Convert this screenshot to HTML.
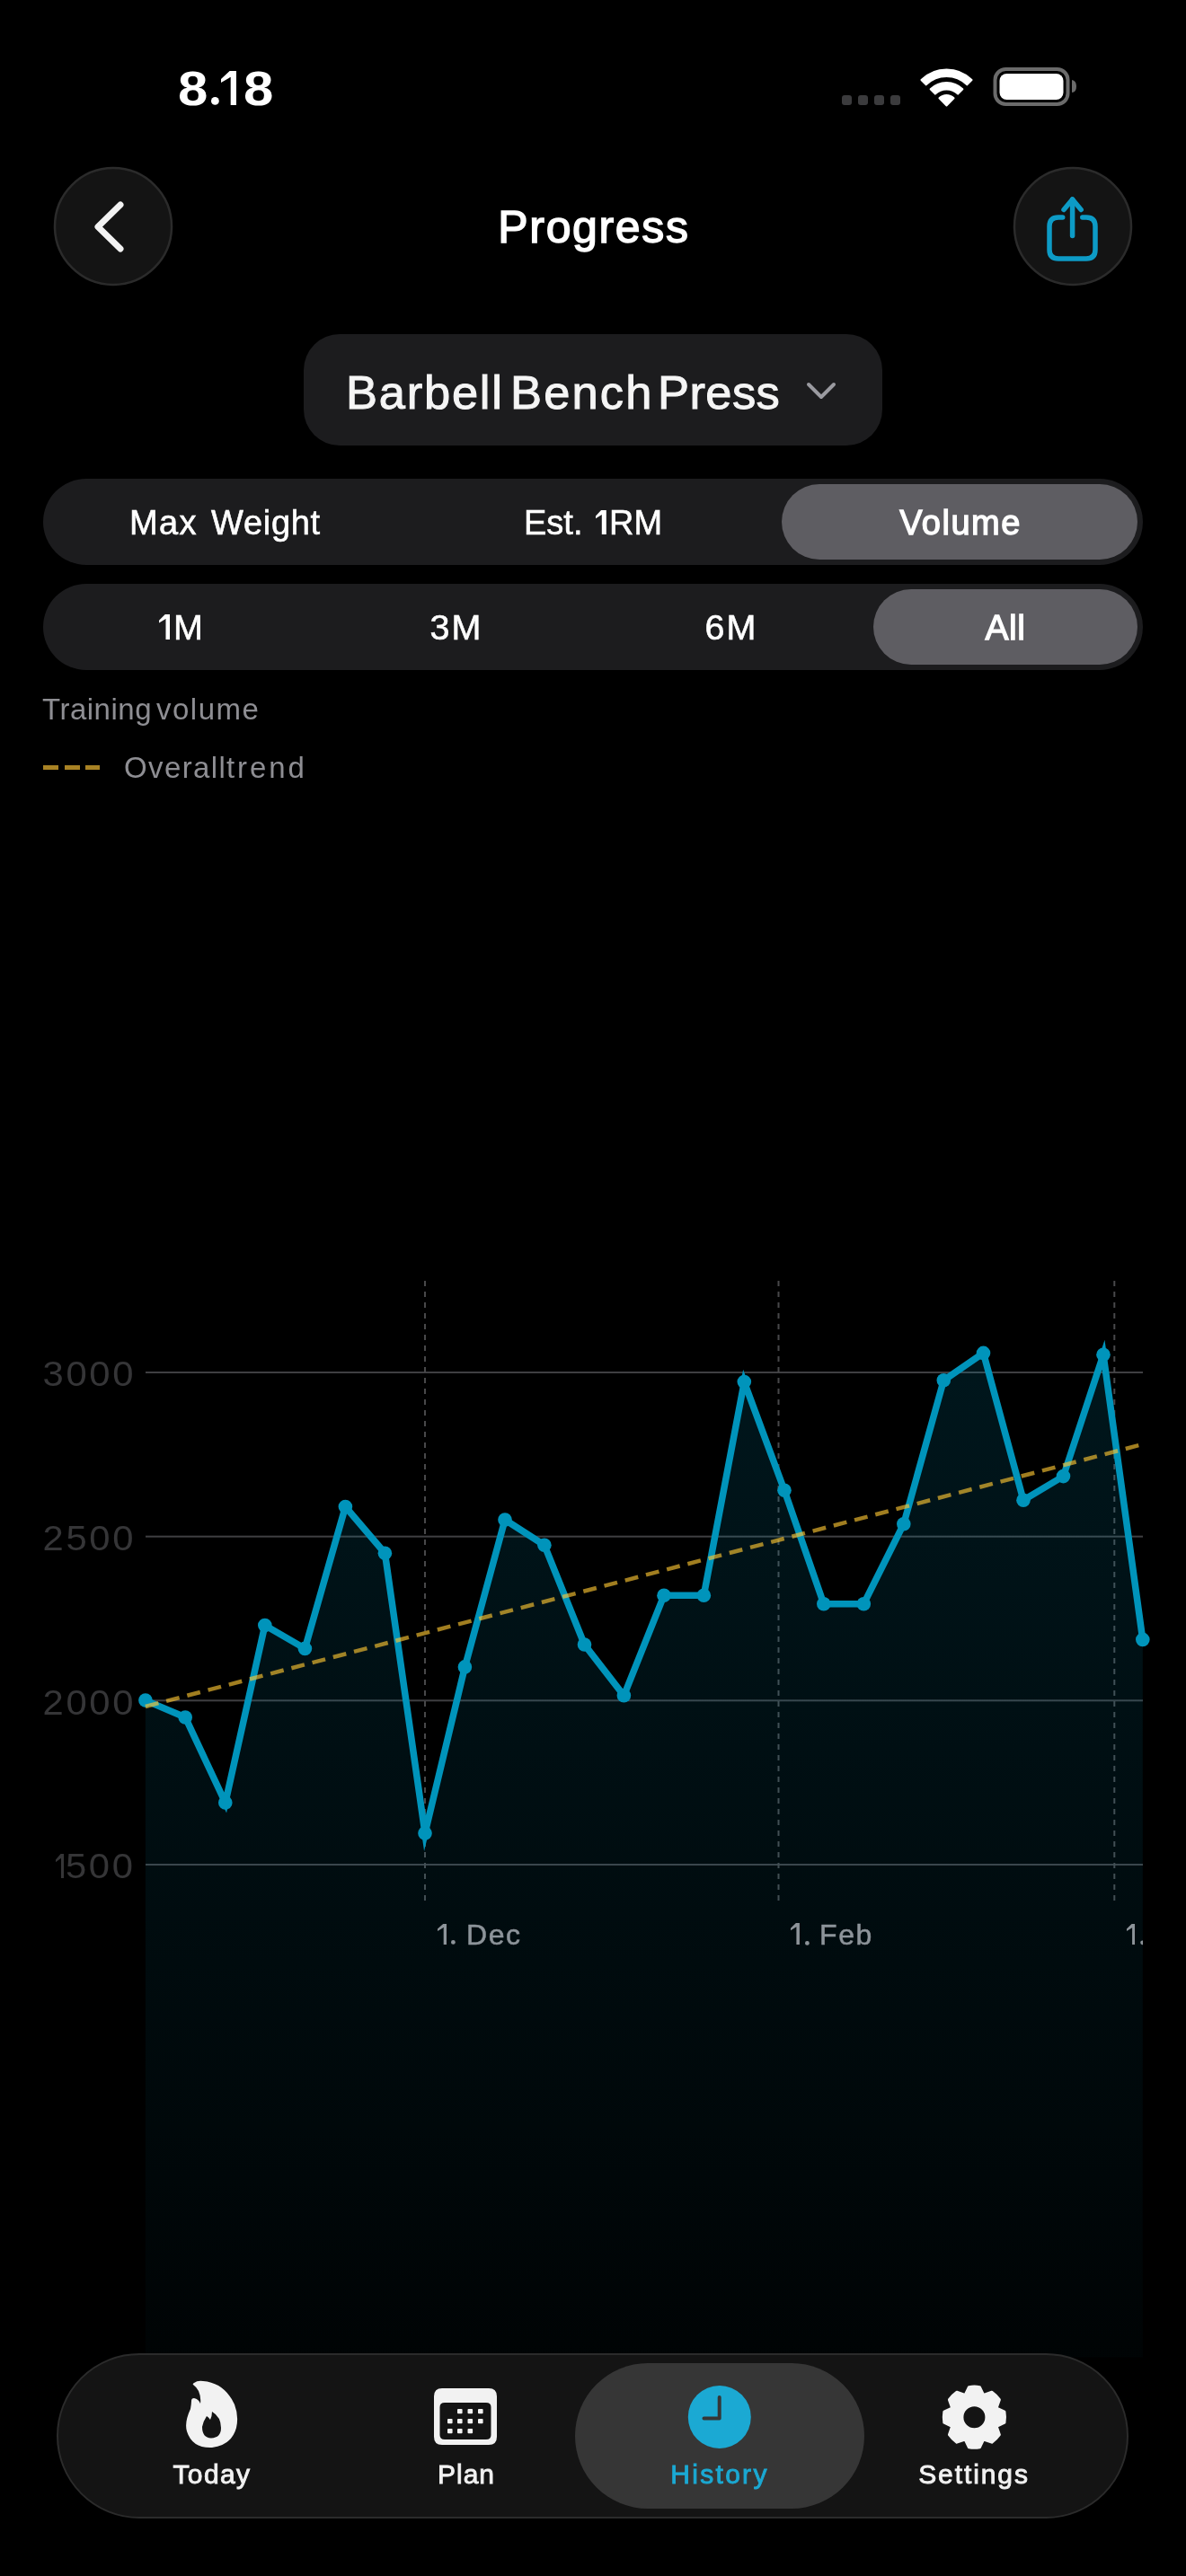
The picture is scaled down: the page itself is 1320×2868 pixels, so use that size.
<!DOCTYPE html>
<html><head><meta charset="utf-8">
<style>
html,body{margin:0;padding:0;background:#000;}
body{width:1320px;height:2868px;position:relative;overflow:hidden;font-family:"Liberation Sans",sans-serif;color:#fff;}
.t{position:absolute;line-height:1;white-space:nowrap;-webkit-font-smoothing:antialiased;will-change:transform;}
.c{text-align:center;}
.abs{position:absolute;}
svg{position:absolute;left:0;top:0;}
svg.one{position:absolute;}
</style></head><body>

<!-- status bar -->
<div class="t" style="left:198px;top:71.5px;font-size:53.5px;font-weight:bold;transform:scaleX(1.12);transform-origin:0 50%;">8</div><svg class="one" width="10.8" height="10.8" style="left:233.50px;top:107.20px"><circle cx="5.40" cy="5.40" r="4.4" fill="#fff"/></svg><svg class="one" width="17.70" height="38.10" style="left:245.5px;top:78.9px;"><polygon fill="#fff" points="9.65,0.00 17.70,0.00 17.70,38.10 10.70,38.10 10.70,6.80 0.00,12.95 0.00,8.95"/></svg><div class="t" style="left:271px;top:71.5px;font-size:53.5px;font-weight:bold;transform:scaleX(1.12);transform-origin:0 50%;">8</div>
<svg width="1320" height="140" style="left:0;top:0">
  <g fill="#3b3b3d">
    <rect x="937" y="106" width="11" height="11" rx="3"/>
    <rect x="955" y="106" width="11" height="11" rx="3"/>
    <rect x="973" y="106" width="11" height="11" rx="3"/>
    <rect x="991" y="106" width="11" height="11" rx="3"/>
  </g>
  <path fill="#fff" stroke="#fff" stroke-width="2" stroke-linejoin="round" d="M1025.46 88.97 A40 40 0 0 1 1081.54 88.97 L1076.28 94.32 A32.5 32.5 0 0 0 1030.72 94.32 Z M1035.63 99.31 A25.5 25.5 0 0 1 1071.37 99.31 L1066.12 104.66 A18 18 0 0 0 1040.88 104.66 Z M1045.44 109.30 A11.5 11.5 0 0 1 1061.56 109.30 L1053.5 117.5 Z"/>
  <rect x="1107.5" y="77" width="81" height="39" rx="12" fill="none" stroke="#6b6b6b" stroke-width="4"/>
  <rect x="1112.5" y="82" width="71" height="29" rx="8" fill="#fff"/>
  <path d="M1193 89 Q1198 90 1198 96 Q1198 103 1193 103 Z" fill="#6b6b6b"/>
</svg>

<!-- header -->
<svg width="1320" height="340" style="left:0;top:0">
  <circle cx="126" cy="252" r="65" fill="#141414" stroke="#2b2b2b" stroke-width="2.5"/>
  <path d="M134 228 L109 252.5 L134 277" fill="none" stroke="#f2f2f2" stroke-width="7" stroke-linecap="round" stroke-linejoin="round"/>
  <circle cx="1194" cy="252" r="65" fill="#141414" stroke="#2b2b2b" stroke-width="2.5"/>
  <g fill="none" stroke="#0d9bc6" stroke-width="5.5" stroke-linecap="round" stroke-linejoin="round">
    <path d="M1182.7 242 L1178 242 Q1168 242 1168 252 L1168 278 Q1168 288 1178 288 L1209 288 Q1219 288 1219 278 L1219 252 Q1219 242 1209 242 L1204.8 242"/>
    <path d="M1193.6 222 L1193.6 262.5"/>
    <path d="M1184 233.5 L1193.6 222 L1203.2 233.5"/>
  </g>
</svg>
<div class="t c" style="left:461px;width:400px;top:228.4px;font-size:50px;letter-spacing:1.65px;-webkit-text-stroke:1.5px #fff;">Progress</div>

<!-- exercise picker -->
<div class="abs" style="left:338px;top:372px;width:644px;height:124px;border-radius:40px;background:#1c1c1e;"></div>
<div class="t" style="left:385px;top:410.5px;font-size:52.5px;color:#f5f5f5;-webkit-text-stroke:1px #f5f5f5;letter-spacing:1.75px;">Barbell</div><div class="t" style="left:567.5px;top:410.5px;font-size:52.5px;color:#f5f5f5;-webkit-text-stroke:1px #f5f5f5;letter-spacing:2.15px;">Bench</div><div class="t" style="left:732px;top:410.5px;font-size:52.5px;color:#f5f5f5;-webkit-text-stroke:1px #f5f5f5;letter-spacing:0.4px;">Press</div>
<svg width="1320" height="520" style="left:0;top:0">
  <path d="M900 428 L914 442 L928 428" fill="none" stroke="#9a9aa0" stroke-width="4" stroke-linecap="round" stroke-linejoin="round"/>
</svg>

<!-- segmented 1 -->
<div class="abs" style="left:48px;top:533px;width:1224px;height:96px;border-radius:48px;background:#1c1c1e;"></div>
<div class="abs" style="left:870px;top:539px;width:396px;height:84px;border-radius:42px;background:#5e5d62;"></div>
<div class="t" style="left:144px;top:563px;font-size:38px;-webkit-text-stroke:0.6px #fff;letter-spacing:1.4px;">Max</div><div class="t" style="left:235.4px;top:563px;font-size:38px;-webkit-text-stroke:0.6px #fff;letter-spacing:0.72px;">Weight</div>
<div class="t" style="left:583px;top:563px;font-size:38px;-webkit-text-stroke:0.6px #fff;">Est.</div><svg class="one" width="11.80" height="27.50" style="left:662.9px;top:567.5px;"><polygon fill="#fff" points="6.05,0.00 11.80,0.00 11.80,27.50 6.80,27.50 6.80,4.90 0.00,9.35 0.00,6.46"/></svg><div class="t" style="left:678px;top:563px;font-size:38px;-webkit-text-stroke:0.6px #fff;">RM</div>
<div class="t c" style="left:869px;width:400px;top:563px;font-size:38px;letter-spacing:1.5px;-webkit-text-stroke:1.3px #fff;">Volume</div>

<!-- segmented 2 -->
<div class="abs" style="left:48px;top:650px;width:1224px;height:96px;border-radius:48px;background:#1c1c1e;"></div>
<div class="abs" style="left:972px;top:656px;width:294px;height:84px;border-radius:42px;background:#5e5d62;"></div>
<svg class="one" width="12.50" height="28.30" style="left:176.6px;top:683.9px;"><polygon fill="#fff" points="6.75,0.00 12.50,0.00 12.50,28.30 7.50,28.30 7.50,5.03 0.00,9.62 0.00,6.65"/></svg><div class="t" style="left:193px;top:678.6px;font-size:39.5px;-webkit-text-stroke:0.6px #fff;">M</div>
<div class="t c" style="left:357.5px;width:300px;top:678.6px;font-size:39.5px;letter-spacing:2px;-webkit-text-stroke:0.6px #fff;">3M</div>
<div class="t c" style="left:663.5px;width:300px;top:678.6px;font-size:39.5px;letter-spacing:2px;-webkit-text-stroke:0.6px #fff;">6M</div>
<div class="t c" style="left:969px;width:300px;top:679px;font-size:39px;letter-spacing:0.5px;-webkit-text-stroke:1.3px #fff;">All</div>

<!-- legend -->
<div class="t" style="left:47px;top:773px;font-size:33px;color:#8e8e93;letter-spacing:0.5px;">Training</div><div class="t" style="left:174px;top:773px;font-size:33px;color:#8e8e93;letter-spacing:1.5px;">volume</div>
<svg width="1320" height="900" style="left:0;top:0">
  <g fill="#a88224">
    <rect x="48" y="852" width="17" height="5"/>
    <rect x="72" y="852" width="17" height="5"/>
    <rect x="95" y="852" width="16" height="5"/>
  </g>
</svg>
<div class="t" style="left:138px;top:838px;font-size:33px;color:#8e8e93;letter-spacing:1.4px;">Overall</div><div class="t" style="left:252px;top:838px;font-size:33px;color:#8e8e93;letter-spacing:2.9px;">trend</div>

<!-- CHART -->
<svg width="1320" height="2868" style="left:0;top:0">
  <defs>
    <linearGradient id="fillg" x1="0" y1="1500" x2="0" y2="2620" gradientUnits="userSpaceOnUse">
      <stop offset="0" stop-color="rgb(0,150,190)" stop-opacity="0.15"/>
      <stop offset="1" stop-color="rgb(0,150,190)" stop-opacity="0.025"/>
    </linearGradient>
  </defs>
  
  <g fill="#3f3f42">
    <rect x="162" y="1527" width="1110" height="2"/>
    <rect x="162" y="1709.7" width="1110" height="2"/>
    <rect x="162" y="1892.3" width="1110" height="2"/>
    <rect x="162" y="2075" width="1110" height="2"/>
  </g>
  <g stroke="#48484a" stroke-width="2" stroke-dasharray="6 6">
    <line x1="473" y1="1426" x2="473" y2="2116"/>
    <line x1="866.5" y1="1426" x2="866.5" y2="2116"/>
    <line x1="1240.3" y1="1426" x2="1240.3" y2="2116"/>
  </g>
  <polygon fill="url(#fillg)" points="161.9,2624.5 161.9,1893.1 206.2,1912.0 250.8,2007.0 294.8,1809.6 339.4,1835.4 384.4,1677.6 428.4,1729.2 473.0,2041.0 517.4,1855.9 562.0,1692.0 605.9,1720.3 650.5,1831.0 694.4,1887.8 739.0,1776.2 783.3,1776.2 828.3,1538.6 873.0,1659.3 916.8,1785.7 961.3,1785.7 1005.8,1696.7 1050.3,1536.8 1094.5,1506.4 1139.0,1670.3 1183.5,1643.6 1228.0,1508.2 1271.8,1825.4 1271.8,2624.5"/>
  <polyline fill="none" stroke="#0094bb" stroke-width="7.5" stroke-linejoin="miter" stroke-miterlimit="10" points="161.9,1893.1 206.2,1912.0 250.8,2007.0 294.8,1809.6 339.4,1835.4 384.4,1677.6 428.4,1729.2 473.0,2041.0 517.4,1855.9 562.0,1692.0 605.9,1720.3 650.5,1831.0 694.4,1887.8 739.0,1776.2 783.3,1776.2 828.3,1538.6 873.0,1659.3 916.8,1785.7 961.3,1785.7 1005.8,1696.7 1050.3,1536.8 1094.5,1506.4 1139.0,1670.3 1183.5,1643.6 1228.0,1508.2 1271.8,1825.4"/>
  <g fill="#0094bb">
<circle cx="161.9" cy="1893.1" r="7.8"/><circle cx="206.2" cy="1912.0" r="7.8"/><circle cx="250.8" cy="2007.0" r="7.8"/><circle cx="294.8" cy="1809.6" r="7.8"/><circle cx="339.4" cy="1835.4" r="7.8"/><circle cx="384.4" cy="1677.6" r="7.8"/><circle cx="428.4" cy="1729.2" r="7.8"/><circle cx="473.0" cy="2041.0" r="7.8"/><circle cx="517.4" cy="1855.9" r="7.8"/><circle cx="562.0" cy="1692.0" r="7.8"/><circle cx="605.9" cy="1720.3" r="7.8"/><circle cx="650.5" cy="1831.0" r="7.8"/><circle cx="694.4" cy="1887.8" r="7.8"/><circle cx="739.0" cy="1776.2" r="7.8"/><circle cx="783.3" cy="1776.2" r="7.8"/><circle cx="828.3" cy="1538.6" r="7.8"/><circle cx="873.0" cy="1659.3" r="7.8"/><circle cx="916.8" cy="1785.7" r="7.8"/><circle cx="961.3" cy="1785.7" r="7.8"/><circle cx="1005.8" cy="1696.7" r="7.8"/><circle cx="1050.3" cy="1536.8" r="7.8"/><circle cx="1094.5" cy="1506.4" r="7.8"/><circle cx="1139.0" cy="1670.3" r="7.8"/><circle cx="1183.5" cy="1643.6" r="7.8"/><circle cx="1228.0" cy="1508.2" r="7.8"/><circle cx="1271.8" cy="1825.4" r="7.8"/>
  </g>
  <line x1="161.9" y1="1900" x2="1271.8" y2="1608" stroke="rgba(255,200,50,0.63)" stroke-width="4.5" stroke-dasharray="15 9"/>
</svg>
<div class="t" style="right:1169px;top:1511px;font-size:38px;color:#353537;letter-spacing:2.4px;transform:scaleX(1.1);transform-origin:100% 50%;">3000</div>
<div class="t" style="right:1169px;top:1694px;font-size:38px;color:#353537;letter-spacing:2.4px;transform:scaleX(1.1);transform-origin:100% 50%;">2500</div>
<div class="t" style="right:1169px;top:1876.5px;font-size:38px;color:#353537;letter-spacing:2.4px;transform:scaleX(1.1);transform-origin:100% 50%;">2000</div>
<svg class="one" width="9.00" height="27.30" style="left:62.3px;top:2064px;"><polygon fill="#353537" points="5.55,0.00 9.00,0.00 9.00,27.30 6.00,27.30 6.00,4.67 0.00,9.28 0.00,6.42"/></svg><div class="t" style="right:1169px;top:2059px;font-size:38px;color:#353537;letter-spacing:2.4px;transform:scaleX(1.1);transform-origin:100% 50%;">500</div>
<svg class="one" width="10.20" height="23.20" style="left:486.5px;top:2141.8px;"><polygon fill="#8d949a" points="6.17,0.00 10.20,0.00 10.20,23.20 6.70,23.20 6.70,4.06 0.00,7.89 0.00,5.45"/></svg><svg class="one" width="6.8" height="6.8" style="left:501.00px;top:2159.30px"><circle cx="3.40" cy="3.40" r="2.4" fill="#8d949a"/></svg><div class="t" style="left:519px;top:2138px;font-size:32px;color:#8d949a;letter-spacing:1.6px;-webkit-text-stroke:0.5px #8d949a;">Dec</div>
<svg class="one" width="9.90" height="24.10" style="left:879.9px;top:2141.2px;"><polygon fill="#8d949a" points="5.88,0.00 9.90,0.00 9.90,24.10 6.40,24.10 6.40,4.21 0.00,8.19 0.00,5.66"/></svg><svg class="one" width="6.8" height="6.8" style="left:894.50px;top:2159.50px"><circle cx="3.40" cy="3.40" r="2.4" fill="#8d949a"/></svg><div class="t" style="left:912px;top:2138px;font-size:32px;color:#8d949a;letter-spacing:1.6px;-webkit-text-stroke:0.5px #8d949a;">Feb</div>
<svg class="one" width="9.60" height="23.60" style="left:1253.7px;top:2141.5px;"><polygon fill="#8d949a" points="5.57,0.00 9.60,0.00 9.60,23.60 6.10,23.60 6.10,4.13 0.00,8.02 0.00,5.55"/></svg><div class="abs" style="left:1262px;top:2150px;width:10px;height:20px;overflow:hidden;"><svg width="10" height="20" style="left:0;top:0"><circle cx="9.6" cy="12.8" r="2.4" fill="#8d949a"/></svg></div>

<!-- TAB BAR -->
<div class="abs" style="left:63px;top:2620px;width:1189px;height:180px;border-radius:92px;background:#141414;border:2px solid #2b2b2b;"></div>
<div class="abs" style="left:640px;top:2631px;width:322px;height:162px;border-radius:81px;background:#363636;"></div>
<svg width="1320" height="2868" style="left:0;top:0">
  <!-- flame -->
  <path fill="#f2f2f2" fill-rule="evenodd" d="M216 2653 Q220 2650 226 2651 Q250 2653 261 2677 Q266 2690 263 2703 Q258 2722 236 2725 Q214 2726 208 2707 Q205 2697 212 2682 Q213 2676 213 2673 Q213 2670 216 2670 Q221 2671 223 2676 Q224 2669 221 2662 Q218 2657 215 2655 Q214 2654 216 2653 Z
  M236 2685 Q236 2690 234 2694 Q232 2691 230 2690 Q226 2696 225 2702 Q225 2714 235 2714.5 Q246 2714 246 2703 Q246 2691 236 2685 Z"/>
  <!-- calendar -->
  <path fill="#f2f2f2" fill-rule="evenodd" d="M492 2659 H544 Q553 2659 553 2668 V2713 Q553 2722 544 2722 H492 Q483 2722 483 2713 V2668 Q483 2659 492 2659 Z M495 2675 Q489.5 2675 489.5 2680 V2711 Q489.5 2716 495 2716 H541 Q546.5 2716 546.5 2711 V2680 Q546.5 2675 541 2675 Z"/>
  <g fill="#f2f2f2">
    <rect x="509" y="2682" width="5.6" height="5.3" rx="1"/><rect x="520.5" y="2682" width="5.6" height="5.3" rx="1"/><rect x="532" y="2682" width="5.6" height="5.3" rx="1"/>
    <rect x="498" y="2693" width="5.6" height="5.3" rx="1"/><rect x="509" y="2693" width="5.6" height="5.3" rx="1"/><rect x="520.5" y="2693" width="5.6" height="5.3" rx="1"/><rect x="532" y="2693" width="5.6" height="5.3" rx="1"/>
    <rect x="498" y="2704" width="5.6" height="5.3" rx="1"/><rect x="509" y="2704" width="5.6" height="5.3" rx="1"/><rect x="520.5" y="2704" width="5.6" height="5.3" rx="1"/>
  </g>
  <!-- clock -->
  <circle cx="800.8" cy="2691" r="35" fill="#1ba9d3"/>
  <path d="M800.7 2669 V2692.6 H783.5" fill="none" stroke="#363636" stroke-width="4" stroke-linecap="round" stroke-linejoin="round"/>
  <!-- gear -->
  <g transform="translate(1084.4 2691.2)" fill="#f2f2f2">
    <path fill-rule="evenodd" stroke="#f2f2f2" stroke-width="3" stroke-linejoin="round" d="M-10.20 -24.89 L-6.00 -33.57 A34.1 34.1 0 0 1 6.00 -33.57 L10.20 -24.89 A26.9 26.9 0 0 1 10.39 -24.81 L19.49 -27.98 A34.1 34.1 0 0 1 27.98 -19.49 L24.81 -10.39 A26.9 26.9 0 0 1 24.89 -10.20 L33.57 -6.00 A34.1 34.1 0 0 1 33.57 6.00 L24.89 10.20 A26.9 26.9 0 0 1 24.81 10.39 L27.98 19.49 A34.1 34.1 0 0 1 19.49 27.98 L10.39 24.81 A26.9 26.9 0 0 1 10.20 24.89 L6.00 33.57 A34.1 34.1 0 0 1 -6.00 33.57 L-10.20 24.89 A26.9 26.9 0 0 1 -10.39 24.81 L-19.49 27.98 A34.1 34.1 0 0 1 -27.98 19.49 L-24.81 10.39 A26.9 26.9 0 0 1 -24.89 10.20 L-33.57 6.00 A34.1 34.1 0 0 1 -33.57 -6.00 L-24.89 -10.20 A26.9 26.9 0 0 1 -24.81 -10.39 L-27.98 -19.49 A34.1 34.1 0 0 1 -19.49 -27.98 L-10.39 -24.81 A26.9 26.9 0 0 1 -10.20 -24.89 Z M13.5 0 A13.5 13.5 0 1 0 -13.5 0 A13.5 13.5 0 1 0 13.5 0 Z"/>
  </g>
</svg>
<div class="t c" style="left:136px;width:200px;top:2740px;font-size:30px;letter-spacing:1.4px;-webkit-text-stroke:0.9px #f2f2f2;color:#f2f2f2;">Today</div>
<div class="t c" style="left:418.5px;width:200px;top:2740px;font-size:30px;letter-spacing:1px;-webkit-text-stroke:0.9px #f2f2f2;color:#f2f2f2;">Plan</div>
<div class="t c" style="left:701px;width:200px;top:2740px;font-size:30px;letter-spacing:2.3px;-webkit-text-stroke:0.9px #1ba9d3;color:#1ba9d3;">History</div>
<div class="t c" style="left:984px;width:200px;top:2740px;font-size:30px;letter-spacing:1.9px;-webkit-text-stroke:0.9px #f2f2f2;color:#f2f2f2;">Settings</div>

</body></html>
